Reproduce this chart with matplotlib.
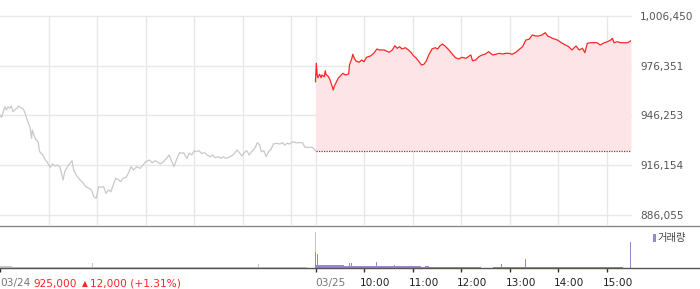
import matplotlib
matplotlib.use("Agg")
import matplotlib.pyplot as plt
import matplotlib.transforms as mtransforms
from matplotlib.lines import Line2D
from matplotlib.patches import Rectangle
import numpy as np

plt.rcParams["font.family"] = ["DejaVu Sans", "Noto Sans CJK KR"]

# ---- data (minutes after 09:00 of each session) ----
day1_min = [0, 2, 4, 6, 8, 10, 12, 14, 16, 19, 21, 23, 25, 27, 29, 31, 33, 35, 37, 39,
            40, 42, 44, 47, 49, 53, 56, 58, 62, 65, 68, 71, 74, 78, 80, 84, 89, 91, 95, 99,
            103, 106, 110, 113, 116, 119, 122, 124, 128, 131, 134, 137, 140, 143, 146, 149, 152, 156, 159, 162,
            165, 169, 173, 176, 180, 185, 188, 192, 196, 198, 202, 206, 209, 212, 215, 218, 222, 225, 227, 231,
            234, 237, 240, 243, 246, 249, 253, 256, 260, 263, 266, 270, 273, 276, 279, 283, 288, 290, 293, 296,
            299, 302, 305, 308, 311, 314, 316, 318, 321, 323, 326, 329, 332, 335, 338, 342, 346, 349, 352, 355,
            358, 362, 366, 370, 374, 377, 381, 386, 390]
day1_price = [946560, 945160, 948550, 951580, 949580, 951580, 950610, 952000, 948550, 950000,
              950610, 952000, 951210, 950610, 950000, 947580, 944560, 941530, 939480, 932460,
              937480, 934460, 931850, 930400, 924350, 922360, 919330, 918300, 914910, 916910,
              915700, 916310, 915280, 907230, 912250, 915700, 918910, 913280, 909650, 907230,
              905230, 903180, 902210, 901180, 897130, 896160, 903180, 902810, 903180, 899180,
              901180, 900150, 904210, 908260, 907650, 906200, 908260, 908860, 911650, 915280,
              913280, 915280, 914310, 915700, 918300, 919330, 917700, 918910, 917700, 916910,
              918300, 920360, 922360, 918910, 915280, 919330, 923750, 923380, 923750, 920360,
              923380, 922360, 924960, 924350, 924960, 923380, 923750, 922360, 921330, 922360,
              920720, 921330, 920360, 921330, 920360, 920960, 922360, 923380, 925380, 923750,
              921750, 923750, 924960, 922360, 924350, 925800, 927380, 929800, 928410, 924350,
              924960, 921330, 924350, 925800, 929010, 929430, 929010, 929800, 928410, 929430,
              929010, 930400, 929800, 929800, 929800, 927010, 927010, 927010, 925000]

day2_min = [0, 1, 2, 3, 5, 7, 8, 11, 12, 13, 16, 18, 20, 22, 23, 25, 28, 31, 34, 37,
            41, 42, 45, 46, 48, 50, 54, 57, 60, 63, 68, 72, 76, 79, 85, 91, 95, 98, 101, 104,
            107, 111, 115, 118, 121, 124, 128, 131, 134, 137, 140, 144, 148, 151, 154, 157, 161, 165, 170, 173,
            177, 181, 186, 190, 192, 194, 198, 202, 206, 210, 214, 219, 223, 227, 231, 235, 239, 243, 247, 251,
            256, 260, 264, 268, 272, 276, 280, 284, 287, 293, 299, 305, 309, 313, 317, 322, 326, 330, 333, 336,
            340, 344, 348, 352, 357, 361, 365, 367, 369, 373, 377, 383, 386, 390]
day2_price = [966700, 977830, 970760, 969120, 971180, 969120, 970760, 969730, 973360, 971180,
              969730, 967730, 964700, 961680, 963680, 965730, 968760, 970330, 971780, 970760,
              971360, 976800, 980860, 983280, 980860, 979230, 978440, 979830, 978800, 981460,
              982250, 983880, 986490, 985880, 985880, 984490, 985880, 988480, 986910, 987880,
              986490, 987270, 985880, 984490, 982430, 981220, 978800, 976800, 977230, 979230,
              982860, 986490, 987270, 986490, 988480, 989510, 987880, 985880, 982860, 981220,
              980440, 981460, 980860, 982250, 982860, 979410, 979830, 981830, 982860, 983460,
              984850, 982860, 983280, 983880, 983460, 983880, 983880, 983280, 984250, 985880,
              987880, 991930, 992350, 994960, 994350, 994350, 994960, 996350, 994350, 992960,
              991930, 989930, 988910, 987880, 985880, 988300, 985880, 986910, 984250, 989930,
              990300, 990300, 990300, 988910, 990300, 990900, 991930, 992960, 990300, 990900,
              990300, 990300, 990300, 991510]

prev_close = 925000
price_levels = [886055, 916154, 946253, 976351, 1006450]

# volume per 5-minute bin (09:00 ... 15:25)
day1_vol = [220, 180, 160, 150, 140, 130, 150, 120, 110, 130, 120, 110,
            100, 120, 110, 100, 90, 110, 100, 100, 90, 100, 110, 100,
            110, 120, 100, 90, 100, 110, 100, 90, 100, 100, 90, 100,
            90, 100, 110, 100, 90, 100, 100, 90, 100, 110, 100, 100,
            100, 90, 100, 110, 100, 90, 100, 100, 110, 100, 90, 100,
            120, 150, 110, 100, 120, 130, 110, 120, 130, 120, 110, 120,
            110, 120, 100, 90, 0, 0]
day2_vol = [300, 320, 280, 300, 260, 280, 300, 250, 200, 240, 220, 200,
            220, 200, 230, 180, 200, 250, 200, 180, 220, 200, 190, 180,
            170, 160, 150, 180, 140, 100, 120, 60, 150, 80, 120, 100,
            80, 60, 100, 60, 80, 40, 0, 0, 100, 120, 100, 110,
            120, 110, 130, 120, 140, 130, 150, 130, 120, 140, 120, 130,
            130, 120, 140, 120, 130, 120, 130, 140, 120, 130, 120, 140,
            150, 150, 150, 150, 0, 0]
day1_spike_min = [114, 319, 389.5]
day1_spike_vol = [500, 400, 3600]
day2_spike_min = [0.5, 2, 42, 45, 76, 98, 230, 260, 389]
day2_spike_vol = [1600, 1440, 540, 480, 570, 350, 370, 900, 2600]

tick_pos = [0, 390, 450, 510, 570, 630, 690, 750]
tick_labels = ["03/24", "03/25", "10:00", "11:00", "12:00", "13:00", "14:00", "15:00"]

RED = "#ff2424"
FILL = "#fde4e7"
GREY_LINE = "#c8c8ce"
PURPLE = "#9a86c8"
GRID = "#e8e8e8"

W, H = 700, 289


def px_box(left, top, right, bottom):
    return [left / W, 1 - bottom / H, (right - left) / W, (bottom - top) / H]


fig = plt.figure(figsize=(W / 100, H / 100), dpi=100)

# ---- price panel ----
ax = fig.add_axes(px_box(0, 16, 631, 225))
ax.set_xlim(0, 780)
ax.set_ylim(886055 - 10 * 605, 1006450)
for s in ax.spines.values():
    s.set_visible(False)

for v in price_levels:
    ax.axhline(v, color=GRID, lw=1, zorder=0, clip_on=False)
for xv in list(range(60, 390, 60)) + [390] + list(range(450, 780, 60)):
    ax.axvline(xv, color=GRID, lw=1, zorder=0)

x1 = np.array(day1_min)
x2 = 390 + np.array(day2_min)
ax.fill_between(x2, day2_price, prev_close, color=FILL, lw=0, zorder=1)
ax.hlines(prev_close, 390, 780, colors="#7a4040", linestyles=(0, (1, 1)), lw=0.9, zorder=2)
ax.plot(x1, day1_price, color=GREY_LINE, lw=0.9, zorder=3)
ax.plot(x2, day2_price, color=RED, lw=0.9, zorder=3)

ax.set_xticks([])
ax.yaxis.tick_right()
ax.set_yticks(price_levels)
ax.set_yticklabels([f"{v:,}" for v in price_levels])
ax.tick_params(axis="y", length=0, pad=6.5, labelsize=7.6, labelcolor="#555555")

# ---- volume panel ----
axv = fig.add_axes(px_box(0, 228, 631, 268))
axv.set_xlim(0, 780)
axv.set_ylim(0, 4000)
for s in axv.spines.values():
    s.set_visible(False)
centers1 = np.arange(len(day1_vol)) * 5 + 2.5
centers2 = 390 + np.arange(len(day2_vol)) * 5 + 2.5
axv.bar(centers1, day1_vol, width=5, color="#cacaca", lw=0)
axv.bar(centers2, day2_vol, width=5, color=PURPLE, lw=0)
axv.bar(day1_spike_min, day1_spike_vol, width=1.2, color="#c4c4c4", lw=0)
axv.bar(390 + np.array(day2_spike_min), day2_spike_vol, width=1.2, color=PURPLE, lw=0)

axv.set_yticks([])
axv.set_xticks(tick_pos)
axv.set_xticklabels(tick_labels)
axv.tick_params(axis="x", length=3, width=1, color="#333333", pad=4.5, labelsize=7.6)
shift = mtransforms.ScaledTranslation(-4 / 100, 0, fig.dpi_scale_trans)
for lbl, name in zip(axv.get_xticklabels(), tick_labels):
    lbl.set_horizontalalignment("left")
    if "/" in name:
        lbl.set_color("#777777")
    else:
        lbl.set_color("#222222")
        lbl.set_transform(lbl.get_transform() + shift)

# full-width separators
fig.add_artist(Line2D([0, 1], [1 - 225.5 / H] * 2, transform=fig.transFigure, color="#888888", lw=1))
fig.add_artist(Line2D([0, 1], [1 - 268 / H] * 2, transform=fig.transFigure, color="#555555", lw=1))

# volume legend
fig.add_artist(Rectangle((652.5 / W, 1 - 242 / H), 3 / W, 8 / H, transform=fig.transFigure,
                         color=PURPLE, lw=0))
fig.text(658 / W, 1 - 238 / H, "거래량", fontsize=7.4, va="center", color="#444444",
         family=["Noto Sans CJK KR", "DejaVu Sans"])

# current price text
fig.text(33 / W, 1 - 283.5 / H, "925,000", fontsize=7.6, va="center", color=RED)
fig.text(81.5 / W, 1 - 283.5 / H, "▲", fontsize=5.5, va="center", color=RED)
fig.text(90.5 / W, 1 - 283.5 / H, "12,000 (+1.31%)", fontsize=7.6, va="center", color=RED)

fig.savefig("out.png", dpi=100)
